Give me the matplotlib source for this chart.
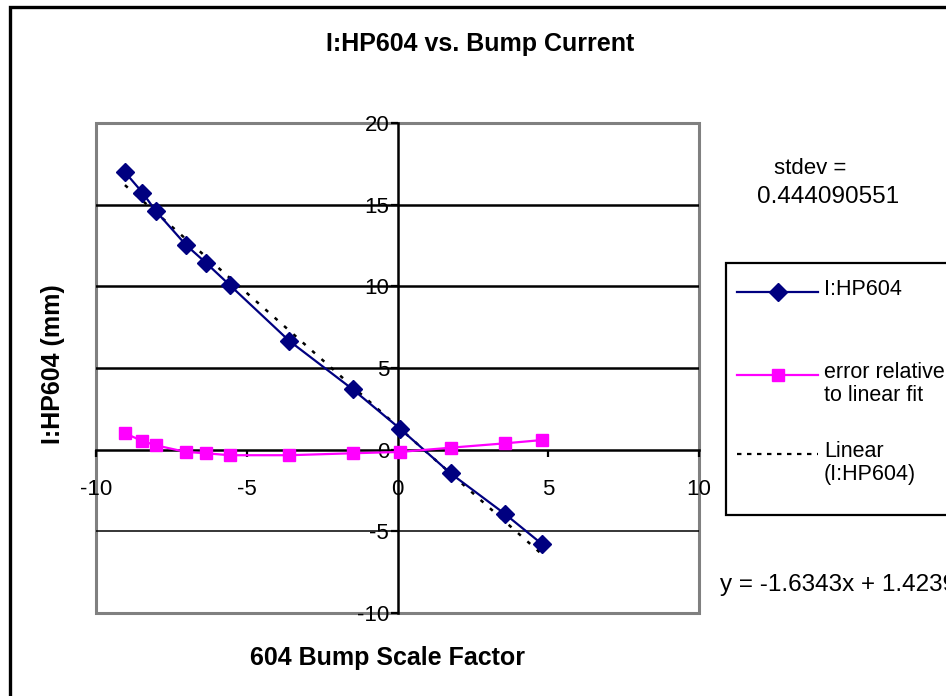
import numpy as np
import matplotlib.pyplot as plt
from matplotlib.lines import Line2D
from matplotlib.patches import Rectangle

plt.rcParams['font.family'] = ['Liberation Sans', 'DejaVu Sans']
plt.rcParams['axes.unicode_minus'] = False

# bump scale factor vs. measured I:HP604 position (mm)
scale = [-9.04, -8.46, -8.02, -7.02, -6.36, -5.56, -3.59, -1.49, 0.08, 1.76, 3.58, 4.80]
hp604 = [16.99, 15.74, 14.62, 12.54, 11.45, 10.07, 6.66, 3.70, 1.29, -1.45, -3.96, -5.79]
# residuals of I:HP604 relative to the linear fit
fit_error = [1.00, 0.53, 0.27, -0.14, -0.22, -0.34, -0.34, -0.22, -0.14, 0.12, 0.39, 0.59]

slope = -1.6343
intercept = 1.4239
stdev = 0.444090551

x_ticks = [-10, -5, 0, 5, 10]
y_ticks = [-10, -5, 0, 5, 10, 15, 20]

NAVY = '#000080'
MAGENTA = '#FF00FF'
GRAY = '#808080'

W, H = 946, 696
fig = plt.figure(figsize=(W / 100, H / 100), dpi=100)

def fx(px):
    return px / W

def fy(py):
    return 1 - py / H

ax = fig.add_axes([fx(96), fy(613), fx(699 - 96), (613 - 123) / H])
ax.set_xlim(x_ticks[0], x_ticks[-1])
ax.set_ylim(y_ticks[0], y_ticks[-1])
ax.set_xticks(x_ticks)
ax.set_yticks(y_ticks)

# plot-area frame in gray, axes crossing at the origin in black
ax.patch.set_edgecolor(GRAY)
ax.patch.set_linewidth(2.2)
ax.spines['top'].set_visible(False)
ax.spines['right'].set_visible(False)
for side in ('left', 'bottom'):
    ax.spines[side].set_position(('data', 0))
    ax.spines[side].set_linewidth(1.8)
    ax.spines[side].set_zorder(2.5)

for v in y_ticks[1:-1]:
    if v == 0:
        continue
    ax.axhline(v, color='black', lw=1.8 if v > 0 else 1.1, zorder=1)

ax.tick_params(axis='both', direction='out', length=5, width=1.6,
               labelsize=16, color='black')
ax.tick_params(axis='x', pad=16)
ax.tick_params(axis='y', pad=1)

# trend line drawn from the fitted equation
fit_x = np.array([scale[0], scale[-1]])
ax.plot(fit_x, slope * fit_x + intercept, color='black', lw=1.8,
        linestyle=(0, (1.5, 3.5)), zorder=3)

ax.plot(scale, hp604, color=NAVY, lw=1.6, marker='D', markersize=9,
        markerfacecolor=NAVY, markeredgecolor=NAVY, zorder=4)
ax.plot(scale, fit_error, color=MAGENTA, lw=1.6, marker='s', markersize=8,
        markerfacecolor=MAGENTA, markeredgecolor=MAGENTA, zorder=4)

# chart titles
fig.text(fx(480), fy(44), 'I:HP604 vs. Bump Current', ha='center', va='center',
         fontsize=18, fontweight='bold')
fig.text(fx(387), fy(658), '604 Bump Scale Factor', ha='center', va='center',
         fontsize=18, fontweight='bold')
fig.text(fx(53), fy(364), 'I:HP604 (mm)', ha='center', va='center',
         rotation=90, fontsize=18, fontweight='bold')

# standard deviation and trend line equation
fig.text(fx(810), fy(168), 'stdev =', ha='center', va='center', fontsize=16)
fig.text(fx(828), fy(197), f'{stdev:.9f}', ha='center', va='center', fontsize=17.5)
fig.text(fx(720), fy(585), f'y = {slope:.4f}x + {intercept:.4f}',
         ha='left', va='center', fontsize=17.5)

# legend box, hand-built so multi-line labels align on their first line
fig.add_artist(Rectangle((fx(726), fy(515)), 1, (515 - 263) / H,
                         transform=fig.transFigure, facecolor='white',
                         edgecolor='black', lw=1.6, clip_on=False))
entries = [
    (292, dict(color=NAVY, marker='D', markersize=9), '-', 'I:HP604'),
    (375, dict(color=MAGENTA, marker='s', markersize=8), '-', 'error relative\nto linear fit'),
    (454, dict(color='black'), (0, (2, 2.5)), 'Linear\n(I:HP604)'),
]
for py, style, ls, label in entries:
    fig.add_artist(Line2D([fx(737), fx(818)], [fy(py), fy(py)], lw=1.6,
                          linestyle=ls, transform=fig.transFigure,
                          markevery=[], **style))
    if 'marker' in style:
        fig.add_artist(Line2D([fx(778)], [fy(py)], linestyle='none',
                              transform=fig.transFigure, **style))
    fig.text(fx(824), fy(py - 13), label, ha='left', va='top',
             fontsize=15.5, linespacing=1.1)

# outer chart border
fig.add_artist(Rectangle((fx(10), -1), 2, 1 + fy(7), transform=fig.transFigure,
                         fill=False, edgecolor='black', lw=2.4, clip_on=False))

fig.savefig('out.png', dpi=100)
